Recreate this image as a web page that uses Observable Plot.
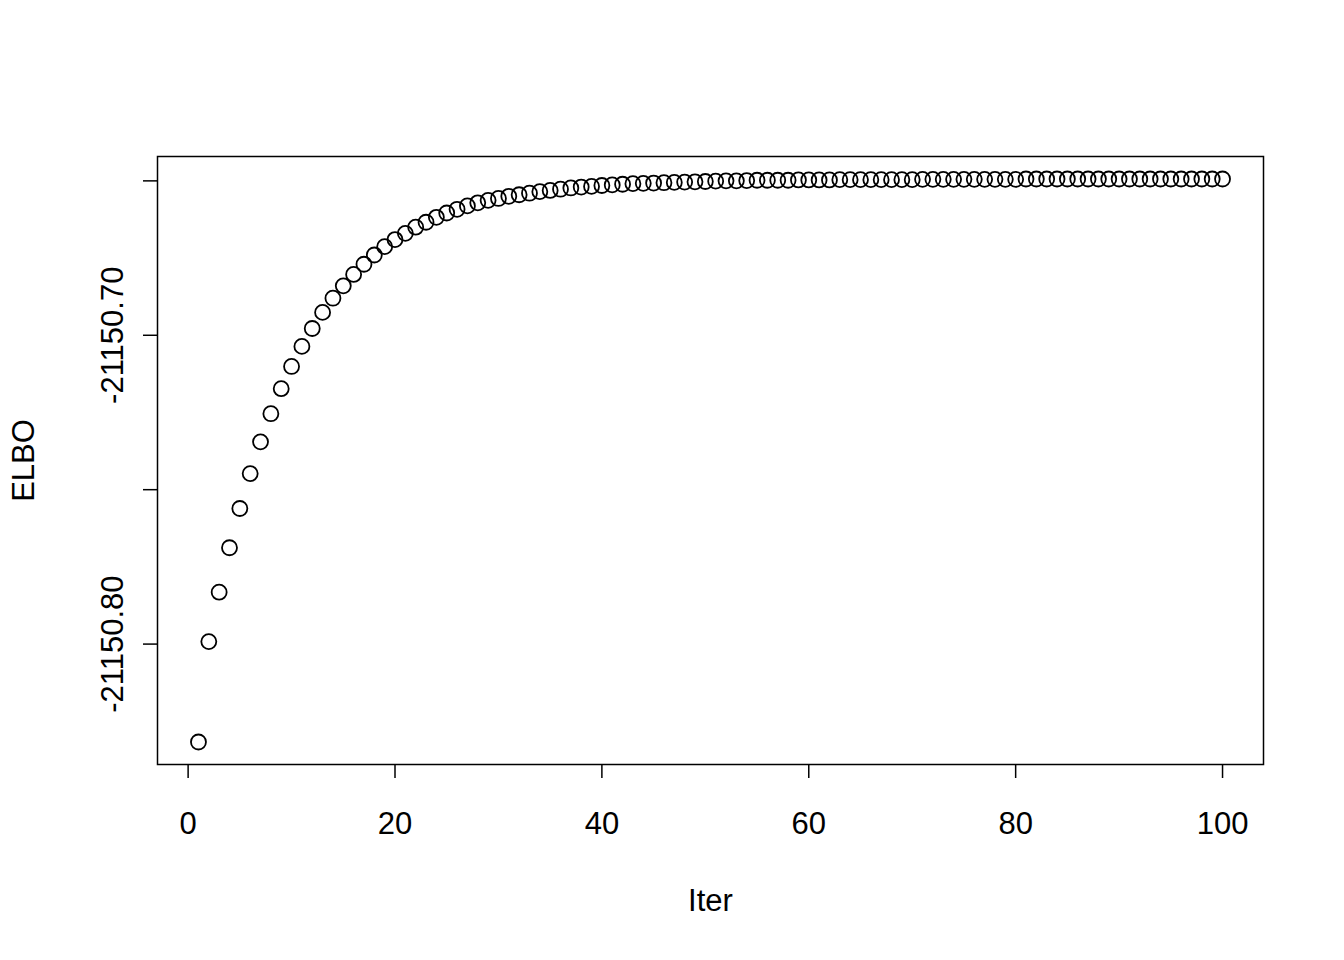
<!DOCTYPE html>
<html>
<head>
<meta charset="utf-8">
<script src="https://cdn.jsdelivr.net/npm/d3@7"></script>
<script src="https://cdn.jsdelivr.net/npm/@observablehq/plot@0.6"></script>
<style>
  html, body { margin: 0; padding: 0; background: #fff; }
  #chart svg { display: block; }
</style>
</head>
<body>
<div id="chart"></div>
<script>
// Iteration index and ELBO values
const iter = [
  1,2,3,4,5,6,7,8,9,10,11,12,13,14,15,16,17,18,19,20,
  21,22,23,24,25,26,27,28,29,30,31,32,33,34,35,36,37,38,39,40,
  41,42,43,44,45,46,47,48,49,50,51,52,53,54,55,56,57,58,59,60,
  61,62,63,64,65,66,67,68,69,70,71,72,73,74,75,76,77,78,79,80,
  81,82,83,84,85,86,87,88,89,90,91,92,93,94,95,96,97,98,99,100
];
const elbo = [
  -21150.8317, -21150.7992, -21150.7832, -21150.7688, -21150.7561,
  -21150.7448, -21150.7345, -21150.7254, -21150.7173, -21150.7101,
  -21150.7036, -21150.6978, -21150.6926, -21150.6880, -21150.6840,
  -21150.6803, -21150.6770, -21150.6740, -21150.6713, -21150.6690,
  -21150.6670, -21150.6650, -21150.6634, -21150.6618, -21150.6604,
  -21150.6592, -21150.6581, -21150.6571, -21150.6563, -21150.6557,
  -21150.6550, -21150.6545, -21150.6540, -21150.6535, -21150.6531,
  -21150.6527, -21150.6523, -21150.6520, -21150.6518, -21150.6515,
  -21150.6513, -21150.6511, -21150.6509, -21150.6508, -21150.6507,
  -21150.6506, -21150.6505, -21150.6504, -21150.6503, -21150.6502,
  -21150.6501, -21150.6500, -21150.6500, -21150.6499, -21150.6498,
  -21150.6498, -21150.6498, -21150.6498, -21150.6497, -21150.6497,
  -21150.6497, -21150.6497, -21150.6496, -21150.6496, -21150.6496,
  -21150.6496, -21150.6496, -21150.6496, -21150.6496, -21150.6496,
  -21150.6495, -21150.6495, -21150.6495, -21150.6495, -21150.6495,
  -21150.6495, -21150.6495, -21150.6495, -21150.6495, -21150.6495,
  -21150.6494, -21150.6494, -21150.6494, -21150.6494, -21150.6494,
  -21150.6494, -21150.6494, -21150.6494, -21150.6494, -21150.6494,
  -21150.6494, -21150.6494, -21150.6494, -21150.6494, -21150.6494,
  -21150.6494, -21150.6494, -21150.6494, -21150.6494, -21150.6494
];
const xTicks = [0, 20, 40, 60, 80, 100];
const yTicks = [-21150.80, -21150.75, -21150.70, -21150.65];
const yTickLabels = [-21150.80, -21150.70];
const xTitle = "Iter";
const yTitle = "ELBO";

const data = iter.map((d, i) => ({iter: d, elbo: elbo[i]}));

// R-style 4% axis padding
function padded(vals) {
  const lo = d3.min(vals), hi = d3.max(vals), p = (hi - lo) * 0.04;
  return [lo - p, hi + p];
}

const font = "Helvetica, Arial, 'Liberation Sans', sans-serif";
const fs = 31;

const chart = Plot.plot({
  width: 1344,
  height: 960,
  marginLeft: 157,
  marginRight: 81,
  marginTop: 156,
  marginBottom: 196,
  style: {fontFamily: font, fontSize: fs + "px", background: "white", color: "black"},
  x: {domain: padded(iter), inset: 0, axis: null},
  y: {domain: padded(elbo), inset: 0, axis: null},
  marks: [
    Plot.frame({stroke: "black", strokeWidth: 1.5}),
    Plot.axisX({ticks: xTicks, tickSize: 14, strokeWidth: 1.5, tickFormat: () => "", label: null}),
    Plot.axisY({ticks: yTicks, tickSize: 14, strokeWidth: 1.5, tickFormat: () => "", label: null}),
    Plot.text(xTicks, {x: d => d, text: d => String(d), frameAnchor: "bottom", dy: 60,
      lineAnchor: "middle", textAnchor: "middle", fontSize: fs, fill: "black"}),
    Plot.text(yTickLabels, {y: d => d, text: d => d.toFixed(2), frameAnchor: "left", dx: -44,
      rotate: -90, lineAnchor: "middle", textAnchor: "middle", fontSize: fs, fill: "black"}),
    Plot.text([xTitle], {text: d => d, frameAnchor: "bottom", dy: 137,
      lineAnchor: "middle", textAnchor: "middle", fontSize: fs, fill: "black"}),
    Plot.text([yTitle], {text: d => d, frameAnchor: "left", dx: -133, rotate: -90,
      lineAnchor: "middle", textAnchor: "middle", fontSize: fs, fill: "black"}),
    Plot.dot(data, {x: "iter", y: "elbo", r: 7.5, stroke: "black", strokeWidth: 1.8, fill: "none"})
  ]
});

document.getElementById("chart").appendChild(chart);
</script>
</body>
</html>
